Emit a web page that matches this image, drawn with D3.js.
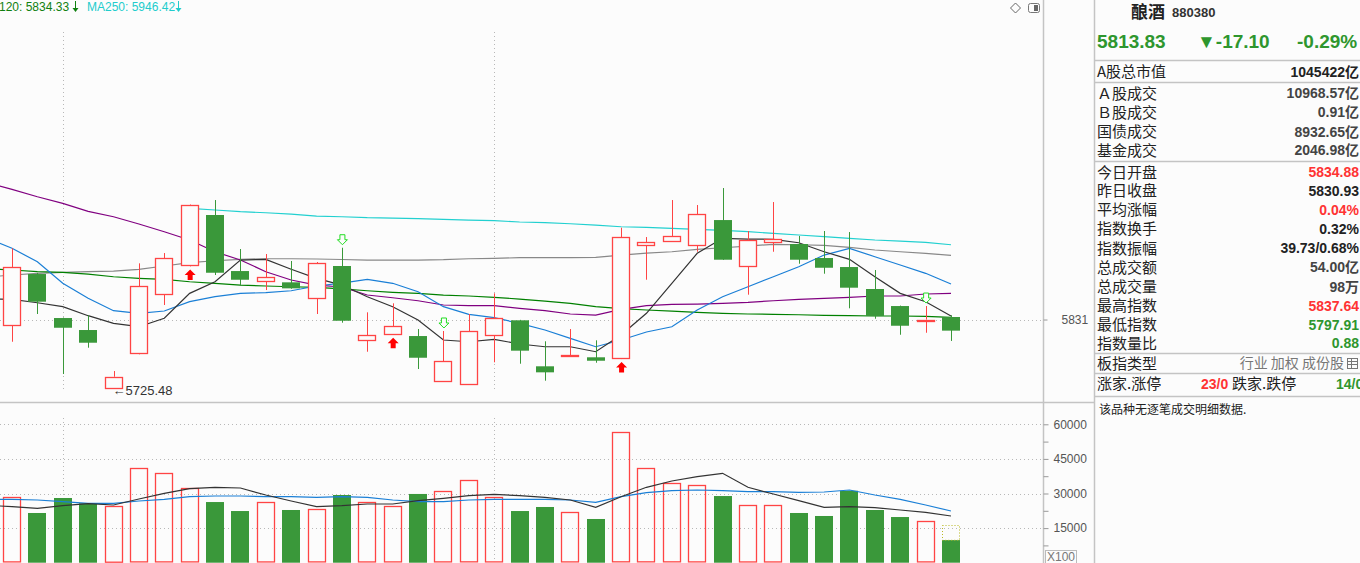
<!DOCTYPE html>
<html>
<head>
<meta charset="utf-8">
<script src="https://cdn.jsdelivr.net/npm/d3@7"></script>
<style>
body { margin: 0; background: #fcfcfc; overflow: hidden; }
svg { display: block; font-family: Arial, "Liberation Sans", "Noto Sans CJK SC", sans-serif; }
</style>
</head>
<body>
<svg width="1360" height="563"></svg>
<script>
// daily OHLC of the index (oldest -> newest)
var opens  = [5822.0,5901.2,5833.3,5814.8,5726.0,5779.8,5869.9,5914.6,5992.3,5905.8,5890.0,5888.4,5863.1,5913.6,5798.9,5808.2,5805.5,5735.6,5731.0,5806.6,5829.8,5758.8,5775.1,5772.7,5771.1,5945.5,5951.7,5945.5,5984.5,5913.1,5950.1,5947.5,5925.9,5912.0,5878.1,5851.8,5829.8,5834.88];
var highs  = [5940.9,5903.0,5834.0,5837.5,5751.5,5917.7,5933.6,6008.5,6015.4,5939.8,5932.1,5921.3,5919.7,5941.8,5842.1,5856.0,5816.3,5813.3,5839.5,5871.4,5830.5,5797.4,5816.3,5798.9,5972.7,5958.3,6015.4,6007.7,6033.9,5967.6,6012.3,5959.9,5967.6,5966.0,5907.4,5852.5,5851.8,5837.64];
var lows   = [5796.7,5839.5,5746.9,5787.5,5725.48,5777.3,5853.4,5913.0,5899.7,5883.2,5876.5,5878.5,5839.5,5826.1,5781.3,5807.5,5754.6,5735.0,5730.5,5765.0,5762.8,5736.6,5775.0,5764.3,5770.0,5892.4,5951.0,5935.6,5923.0,5869.3,5935.6,5917.1,5901.7,5848.3,5832.2,5807.5,5810.6,5797.91];
var closes = [5911.6,5858.5,5818.3,5795.2,5742.7,5882.7,5925.4,6007.7,5903.2,5892.4,5896.6,5879.1,5917.7,5829.1,5806.6,5820.5,5772.0,5766.5,5812.8,5832.9,5782.9,5749.5,5776.2,5767.4,5957.9,5950.6,5959.9,5993.8,5923.3,5953.2,5954.8,5923.3,5910.9,5880.1,5836.4,5821.4,5830.93,5813.83];
// volume, x100
var volumes = [28350,21550,28050,25750,24580,40920,38750,32250,26300,22400,26200,22850,23150,29350,26200,24450,29800,30950,35700,28350,22400,24150,21850,18950,56500,40900,34400,33550,28900,24900,24900,21550,20250,31200,22850,19800,17950,9800];
var projectedVolume = 16200;

// moving averages; first entry is the day before the visible window
var ma5   = [5863.1,5862.2,5856.9,5850.8,5836.9,5825.1,5819.9,5832.9,5871.4,5889.3,5922.8,5923.9,5908.5,5894.6,5884.2,5866.2,5850.8,5830.2,5799.4,5796.7,5800.4,5793.2,5789.0,5789.0,5781.3,5807.1,5840.6,5886.9,5933.2,5956.3,5955.2,5954.8,5949.5,5935.6,5923.9,5897.0,5871.4,5858.5,5836.4];
var ma10  = [5957.2,5940.9,5920.2,5886.9,5863.7,5844.6,5840.6,5844.1,5858.5,5866.2,5871.4,5872.4,5875.4,5882.7,5887.3,5893.0,5886.9,5873.9,5850.8,5839.0,5833.8,5825.1,5814.8,5802.0,5789.0,5799.4,5811.7,5819.9,5845.7,5866.2,5881.6,5897.0,5912.5,5930.5,5940.9,5927.9,5915.1,5902.3,5885.8];
var ma20  = [6042.7,6031.9,6020.5,6010.3,5998.0,5989.6,5978.4,5966.5,5953.7,5935.6,5922.8,5904.8,5892.0,5884.2,5881.2,5868.8,5864.6,5860.0,5853.4,5852.3,5852.3,5848.3,5844.6,5839.5,5837.9,5846.7,5852.3,5854.5,5854.9,5856.0,5857.5,5860.0,5862.2,5863.7,5865.3,5867.3,5867.3,5870.4,5871.4];
var ma60  = [5896.4,5899.7,5902.3,5903.8,5904.8,5905.8,5908.5,5913.6,5918.7,5921.7,5923.9,5924.8,5924.8,5924.4,5923.6,5922.8,5922.8,5922.8,5923.3,5924.8,5925.4,5926.4,5926.4,5926.4,5927.0,5930.5,5933.6,5935.6,5939.3,5941.8,5944.4,5947.0,5946.4,5945.5,5942.4,5938.3,5935.6,5933.2,5930.1];
var ma120 = [5909.7,5907.4,5904.8,5903.8,5901.2,5897.0,5894.6,5893.0,5889.3,5886.9,5884.2,5882.7,5881.6,5880.7,5878.4,5875.4,5873.0,5871.4,5868.8,5867.3,5865.3,5862.6,5859.5,5856.0,5850.8,5847.7,5845.7,5844.1,5842.1,5840.6,5839.5,5839.0,5838.4,5837.5,5836.9,5836.4,5836.4,5835.9,5834.33];
var ma250 = [null,null,null,null,null,null,null,null,6002.6,6000.0,5997.4,5995.8,5993.8,5990.7,5989.6,5988.1,5987.6,5986.6,5985.6,5984.5,5983.5,5981.5,5980.4,5978.8,5976.8,5974.2,5973.3,5971.7,5970.2,5968.7,5966.5,5964.0,5961.4,5958.8,5956.3,5953.7,5952.1,5950.1,5946.42];
var volMa5  = [24926,24276,23582,24710,25577,25013,27614,30085,32079,32686,32382,29348,26747,24276,24710,25446,25446,26877,27917,29045,29651,29045,28351,27180,24016,28611,32686,35417,37281,38755,32686,29781,26877,24016,24276,23843,22845,21848,20244];
var volMa10 = [27484,27484,27180,26444,25750,25750,26747,27484,28611,28914,28914,28611,28611,28351,28611,28351,27180,26444,26444,27180,27484,27484,27484,27180,26183,28611,30345,31212,31515,31212,30779,30779,30518,30648,31515,29348,27484,25013,22412];

var buySignals  = [7, 15, 24];
var sellSignals = [13, 17, 36];
var monthStarts = [2, 19];
var prevClose = 5831;
var volTicks = [7500,15000,22500,30000,37500,45000,52500,60000];

var upColor = '#ff4444', downColor = '#3a983a';
var n = closes.length;
var svg = d3.select('svg');

// scales
var xScale = d3.scaleLinear().domain([0, n - 1]).range([12, 951]);
var yScale = d3.scaleLinear().domain([5706.8, 6324.1]).range([400, 0]);
var vScale = d3.scaleLinear().domain([0, 60000]).range([562.7, 424.3]);
var barW = 18;

svg.append('rect').attr('width', 1360).attr('height', 563).attr('fill', '#fcfcfc');

// grid
var grid = svg.append('g').attr('stroke', '#b8b8b8').attr('stroke-dasharray', '1,3');
monthStarts.forEach(function(i) {
    var x = Math.round(xScale(i)) + 0.5;
    grid.append('line').attr('x1', x).attr('x2', x).attr('y1', 32).attr('y2', 390);
    grid.append('line').attr('x1', x).attr('x2', x).attr('y1', 418).attr('y2', 562);
});
grid.append('line').attr('x1', 0).attr('x2', 1043)
    .attr('y1', Math.round(yScale(prevClose)) + 0.5).attr('y2', Math.round(yScale(prevClose)) + 0.5);
volTicks.filter(d => d % 15000 === 0).forEach(function(v) {
    var y = Math.round(vScale(v)) + 0.5;
    grid.append('line').attr('x1', 0).attr('x2', 1043).attr('y1', y).attr('y2', y);
});

// frame lines
var frame = svg.append('g').attr('stroke', '#c4c4c4').attr('stroke-width', 1.5);
frame.append('line').attr('x1', 1043.5).attr('x2', 1043.5).attr('y1', 0).attr('y2', 563);
frame.append('line').attr('x1', 1094.5).attr('x2', 1094.5).attr('y1', 0).attr('y2', 563);
frame.append('line').attr('x1', 0).attr('x2', 1095).attr('y1', 402.5).attr('y2', 402.5);

// axes
var priceAxis = d3.axisRight(yScale).tickValues([prevClose]).tickSize(4).tickPadding(14).tickFormat(d3.format('d'));
var pa = svg.append('g').attr('transform', 'translate(1043.5,0)').call(priceAxis);
var volAxis = d3.axisRight(vScale).tickValues(volTicks).tickSize(5).tickPadding(5)
    .tickFormat(d => d % 15000 === 0 ? d : '');
var va = svg.append('g').attr('transform', 'translate(1043.5,0)').call(volAxis);
[pa, va].forEach(function(g) {
    g.select('.domain').remove();
    g.selectAll('line').attr('stroke', '#999');
    g.selectAll('text').attr('fill', '#555').attr('font-size', 12).attr('font-family', 'Arial, "Liberation Sans"');
});
svg.append('rect').attr('x', 1045.5).attr('y', 550.5).attr('width', 31).attr('height', 13)
    .attr('fill', 'none').attr('stroke', '#bbb');
svg.append('text').attr('x', 1047).attr('y', 561).attr('font-size', 12).attr('fill', '#777').text('X100');

// moving average lines (index 0 of each MA array is the day before the first candle)
var priceLine = d3.line().defined(d => d != null).x((d, i) => xScale(i - 1)).y(d => yScale(d));
var maSeries = [
    {data: ma250, color: '#22d0d0'},
    {data: ma60, color: '#888888'},
    {data: ma120, color: '#008000'},
    {data: ma20, color: '#800080'},
    {data: ma10, color: '#1a7fd6'},
    {data: ma5, color: '#333333'}
];
svg.append('g').selectAll('path').data(maSeries).enter().append('path')
    .attr('d', d => priceLine(d.data))
    .attr('fill', 'none')
    .attr('stroke', d => d.color)
    .attr('stroke-width', 1.2);

// candles
var candles = svg.append('g').selectAll('g').data(d3.range(n)).enter().append('g');
candles.each(function(i) {
    var g = d3.select(this);
    var x = Math.round(xScale(i));
    var up = closes[i] >= opens[i];
    var top = yScale(Math.max(opens[i], closes[i]));
    var bot = yScale(Math.min(opens[i], closes[i]));
    if (up) {
        g.append('line').attr('x1', x + 0.5).attr('x2', x + 0.5)
            .attr('y1', yScale(highs[i])).attr('y2', top).attr('stroke', upColor);
        g.append('line').attr('x1', x + 0.5).attr('x2', x + 0.5)
            .attr('y1', bot).attr('y2', yScale(lows[i])).attr('stroke', upColor);
        g.append('rect').attr('x', x - 8.5).attr('y', Math.round(top) + 0.5)
            .attr('width', barW - 1).attr('height', Math.max(Math.round(bot - top), 1))
            .attr('fill', '#fcfcfc').attr('stroke', upColor).attr('stroke-width', 1.3);
    } else {
        g.append('line').attr('x1', x + 0.5).attr('x2', x + 0.5)
            .attr('y1', yScale(highs[i])).attr('y2', yScale(lows[i])).attr('stroke', downColor);
        g.append('rect').attr('x', x - 9).attr('y', top)
            .attr('width', barW).attr('height', Math.max(bot - top, 1))
            .attr('fill', downColor);
    }
});

// signals
svg.append('g').selectAll('path').data(buySignals).enter().append('path')
    .attr('transform', i => 'translate(' + [xScale(i) + 0.5, yScale(lows[i]) + 3] + ')')
    .attr('d', 'M0,0 L5.5,5.5 L2.5,5.5 L2.5,10.5 L-2.5,10.5 L-2.5,5.5 L-5.5,5.5 Z')
    .attr('fill', '#ff0000');
svg.append('g').selectAll('path').data(sellSignals).enter().append('path')
    .attr('transform', i => 'translate(' + [xScale(i) + 0.5, yScale(highs[i]) - 3] + ')')
    .attr('d', 'M0,0 L5,-5 L2.5,-5 L2.5,-10 L-2.5,-10 L-2.5,-5 L-5,-5 Z')
    .attr('fill', '#fcfcfc').attr('stroke', '#22dd22');

// lowest point marker
var lowIdx = d3.minIndex(lows);
svg.append('text').attr('x', xScale(lowIdx) - 1).attr('y', yScale(lows[lowIdx]) + 7.5)
    .attr('font-size', 13).attr('fill', '#333').text('\u2190' + lows[lowIdx].toFixed(2));

// volume bars
var vbars = svg.append('g').selectAll('g').data(d3.range(n)).enter().append('g');
vbars.each(function(i) {
    var g = d3.select(this);
    var x = Math.round(xScale(i));
    if (closes[i] >= opens[i]) {
        g.append('rect').attr('x', x - 8.5).attr('y', Math.round(vScale(volumes[i])) + 0.5)
            .attr('width', barW - 1).attr('height', vScale(0) - vScale(volumes[i]) - 1)
            .attr('fill', 'none').attr('stroke', upColor).attr('stroke-width', 1.3);
    } else {
        g.append('rect').attr('x', x - 9).attr('y', vScale(volumes[i]))
            .attr('width', barW).attr('height', vScale(0) - vScale(volumes[i]))
            .attr('fill', downColor);
    }
});
// projected volume for today
svg.append('rect').attr('x', Math.round(xScale(n - 1)) - 8.5).attr('y', Math.round(vScale(projectedVolume)) + 0.5)
    .attr('width', barW - 1).attr('height', vScale(volumes[n - 1]) - vScale(projectedVolume))
    .attr('fill', 'none').attr('stroke', '#b8b820').attr('stroke-dasharray', '1,2');

var volLine = d3.line().x((d, i) => xScale(i - 1)).y(d => vScale(d));
svg.append('path').attr('d', volLine(volMa10)).attr('fill', 'none').attr('stroke', '#1a7fd6').attr('stroke-width', 1.2);
svg.append('path').attr('d', volLine(volMa5)).attr('fill', 'none').attr('stroke', '#333').attr('stroke-width', 1.2);

// header
var header = svg.append('g').attr('font-size', 12);
header.append('text').attr('x', -19).attr('y', 11).attr('fill', '#108010').text('MA120: 5834.33');
header.append('text').attr('x', 87).attr('y', 11).attr('fill', '#22cccc').text('MA250: 5946.42');
function smallDown(x, color) {
    header.append('line').attr('x1', x).attr('x2', x).attr('y1', 1).attr('y2', 9).attr('stroke', color);
    header.append('path').attr('d', 'M' + (x - 3) + ',8 L' + (x + 3) + ',8 L' + x + ',12 Z').attr('fill', color);
}
smallDown(75.5, '#108010');
smallDown(178.5, '#22cccc');
header.append('path').attr('d', 'M1015.5,3 L1020.5,8 L1015.5,13 L1010.5,8 Z').attr('fill', 'none').attr('stroke', '#666');
header.append('rect').attr('x', 1028.5).attr('y', 3.5).attr('width', 11).attr('height', 9).attr('rx', 2)
    .attr('fill', 'none').attr('stroke', '#777');
header.append('rect').attr('x', 1034).attr('y', 5).attr('width', 4).attr('height', 6).attr('fill', '#666');

// right info panel
var red = '#ff3333', green = '#2e962e';
var panel = svg.append('g');
panel.append('text').attr('x', 1131).attr('y', 18).attr('font-size', 17).attr('font-weight', 'bold')
    .attr('font-family', '"Noto Sans CJK SC"').attr('fill', '#222').text('酿酒');
panel.append('text').attr('x', 1172).attr('y', 17).attr('font-size', 13).attr('font-weight', 'bold')
    .attr('fill', '#333').text('880380');
[['5813.83', 1097], ['\u25BC-17.10', 1197], ['-0.29%', 1297]].forEach(function(d) {
    panel.append('text').attr('x', d[1]).attr('y', 48).attr('font-size', 19).attr('font-weight', 'bold')
        .attr('fill', green).text(d[0]);
});
var infoRows = [
    ['A股总市值', '1045422亿', '#222', 71.7],
    ['Ａ股成交', '10968.57亿', '#444', 93.3],
    ['Ｂ股成交', '0.91亿', '#444', 112.3],
    ['国债成交', '8932.65亿', '#444', 131.5],
    ['基金成交', '2046.98亿', '#444', 150.3],
    ['今日开盘', '5834.88', red, 172.3],
    ['昨日收盘', '5830.93', '#222', 191],
    ['平均涨幅', '0.04%', red, 209.8],
    ['指数换手', '0.32%', '#222', 229],
    ['指数振幅', '39.73/0.68%', '#222', 248.3],
    ['总成交额', '54.00亿', '#444', 267.3],
    ['总成交量', '98万', '#444', 286.5],
    ['最高指数', '5837.64', red, 305.7],
    ['最低指数', '5797.91', green, 325],
    ['指数量比', '0.88', green, 343.3]
];
infoRows.forEach(function(r) {
    panel.append('text').attr('x', 1097).attr('y', r[3]).attr('dy', '0.36em').attr('font-size', 15)
        .attr('font-family', '"Noto Sans CJK SC"').attr('fill', '#222').text(r[0]);
    panel.append('text').attr('x', 1359).attr('y', r[3]).attr('dy', '0.36em').attr('text-anchor', 'end')
        .attr('font-size', 14).attr('font-weight', 'bold').attr('fill', r[2]).text(r[1]);
});
[60.5, 82.5, 161.5, 353.5, 373.5, 396.5].forEach(function(y) {
    panel.append('line').attr('x1', 1095).attr('x2', 1360).attr('y1', y).attr('y2', y)
        .attr('stroke', '#c4c4c4').attr('stroke-width', 1.5);
});
panel.append('text').attr('x', 1097).attr('y', 363.3).attr('dy', '0.36em').attr('font-size', 15)
    .attr('font-family', '"Noto Sans CJK SC"').attr('fill', '#222').text('板指类型');
panel.append('text').attr('x', 1344).attr('y', 363.3).attr('dy', '0.36em').attr('text-anchor', 'end')
    .attr('font-size', 14).attr('font-family', '"Noto Sans CJK SC"').attr('fill', '#777').text('行业 加权 成份股');
panel.append('rect').attr('x', 1347.5).attr('y', 358.5).attr('width', 10).attr('height', 10)
    .attr('fill', 'none').attr('stroke', '#777');
panel.append('path').attr('d', 'M1347.5,361.5 H1357.5 M1347.5,364.5 H1357.5 M1351.5,358.5 V368.5')
    .attr('stroke', '#777');
panel.append('text').attr('x', 1097).attr('y', 384).attr('dy', '0.36em').attr('font-size', 15)
    .attr('font-family', '"Noto Sans CJK SC"').attr('fill', '#222').text('涨家.涨停');
panel.append('text').attr('x', 1201).attr('y', 384).attr('dy', '0.36em').attr('font-size', 14)
    .attr('font-weight', 'bold').attr('fill', red).text('23/0');
panel.append('text').attr('x', 1232).attr('y', 384).attr('dy', '0.36em').attr('font-size', 15)
    .attr('font-family', '"Noto Sans CJK SC"').attr('fill', '#222').text('跌家.跌停');
panel.append('text').attr('x', 1336).attr('y', 384).attr('dy', '0.36em').attr('font-size', 14)
    .attr('font-weight', 'bold').attr('fill', green).text('14/0');
panel.append('text').attr('x', 1099).attr('y', 410).attr('dy', '0.36em').attr('font-size', 12)
    .attr('font-family', '"Noto Sans CJK SC"').attr('fill', '#222').text('该品种无逐笔成交明细数据.');
</script>
</body>
</html>
